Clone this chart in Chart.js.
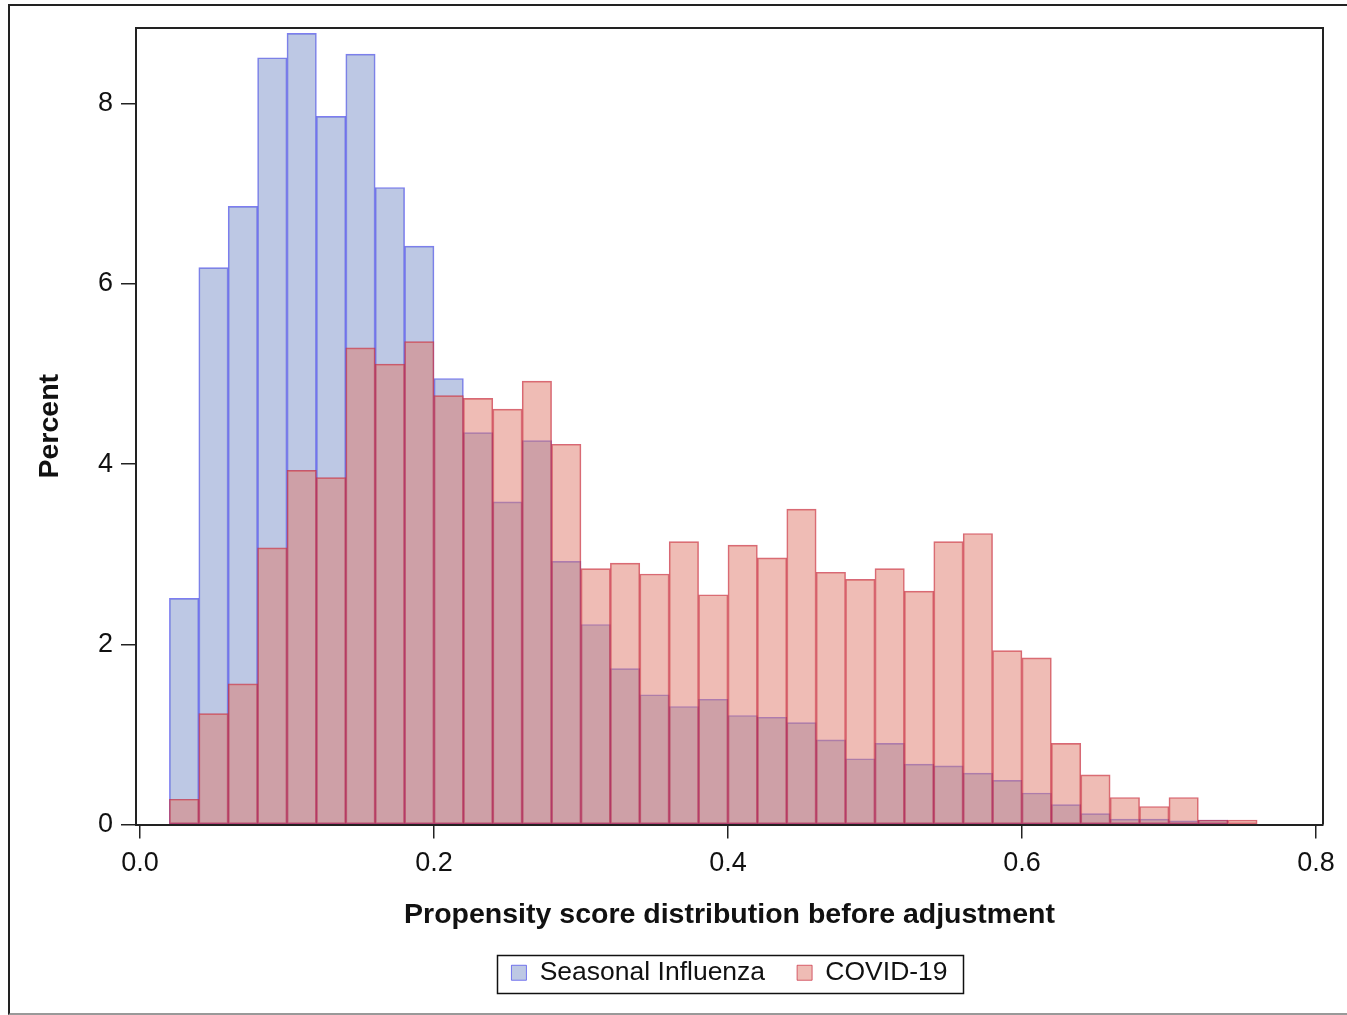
<!DOCTYPE html>
<html>
<head>
<meta charset="utf-8">
<script src="https://cdn.jsdelivr.net/npm/chart.js@4"></script>
<style>
  html, body { margin: 0; padding: 0; background: #fff; }
  #wrap { position: relative; width: 1347px; height: 1015px; overflow: hidden; }
  #frame { position: absolute; left: 8px; top: 4px; width: 1400px; height: 1007px;
           border-left: 2px solid #222; border-top: 2px solid #222; border-bottom: 2px solid #999; }
  #c { position: absolute; left: 0; top: 0; }
</style>
</head>
<body>
<div id="wrap">
  <div id="frame"></div>
  <canvas id="c" width="1347" height="1015"></canvas>
</div>
<script>
// Bin centres (bin width 0.02, first bin 0.02-0.04)
const binCenters = [0.03, 0.05, 0.07, 0.09, 0.11, 0.13, 0.15, 0.17, 0.19, 0.21,
                    0.23, 0.25, 0.27, 0.29, 0.31, 0.33, 0.35, 0.37, 0.39, 0.41,
                    0.43, 0.45, 0.47, 0.49, 0.51, 0.53, 0.55, 0.57, 0.59, 0.61,
                    0.63, 0.65, 0.67, 0.69, 0.71, 0.73, 0.75];
const seriesNames = ['Seasonal Influenza', 'COVID-19'];
const influenza = [2.51, 6.18, 6.86, 8.51, 8.78, 7.86, 8.55, 7.07, 6.42, 4.95,
                   4.35, 3.58, 4.26, 2.92, 2.22, 1.73, 1.44, 1.31, 1.39, 1.21,
                   1.19, 1.13, 0.94, 0.73, 0.90, 0.67, 0.65, 0.57, 0.49, 0.35,
                   0.22, 0.12, 0.06, 0.06, 0.04, 0.05, 0.00];
const covid = [0.28, 1.23, 1.56, 3.07, 3.93, 3.85, 5.29, 5.11, 5.36, 4.76,
               4.73, 4.61, 4.92, 4.22, 2.84, 2.90, 2.78, 3.14, 2.55, 3.10,
               2.96, 3.50, 2.80, 2.72, 2.84, 2.59, 3.14, 3.23, 1.93, 1.85,
               0.90, 0.55, 0.30, 0.20, 0.30, 0.05, 0.05];
const xTickValues = [0, 0.2, 0.4, 0.6, 0.8];
const xTickLabels = ['0.0', '0.2', '0.4', '0.6', '0.8'];
const yTickValues = [0, 2, 4, 6, 8];
const yTickLabels = ['0', '2', '4', '6', '8'];
const xTitle = 'Propensity score distribution before adjustment';
const yTitle = 'Percent';

const FONT = "'Liberation Sans', Arial, sans-serif";
const AXIS = '#222';

const framePlugin = {
  id: 'framePlugin',
  afterDraw(chart) {
    const ctx = chart.ctx, a = chart.chartArea;
    ctx.save();
    ctx.strokeStyle = AXIS;
    ctx.lineWidth = 2;
    ctx.beginPath();
    ctx.moveTo(a.left, a.top);
    ctx.lineTo(a.right, a.top);
    ctx.lineTo(a.right, a.bottom);
    ctx.stroke();
    // legend frame
    const hb = chart.legend && chart.legend.legendHitBoxes;
    if (hb && hb.length) {
      const l = hb[0].left - 14;
      const last = hb[hb.length - 1];
      const r = last.left + last.width + 16;
      const t = hb[0].top - 5;
      const b = hb[0].top + hb[0].height + 6;
      ctx.lineWidth = 1.5;
      ctx.strokeStyle = '#111';
      ctx.strokeRect(Math.round(l) + 0.5, Math.round(t) + 0.5, Math.round(r - l), Math.round(b - t));
    }
    ctx.restore();
  }
};

new Chart(document.getElementById('c'), {
  type: 'bar',
  data: {
    datasets: [
      {
        label: seriesNames[0],
        data: binCenters.map((x, i) => ({ x: x, y: influenza[i] })),
        backgroundColor: 'rgba(123,145,201,0.5)',
        borderColor: 'rgba(70,70,235,0.7)',
        borderWidth: 1,
        borderSkipped: false,
        grouped: false,
        barPercentage: 1,
        categoryPercentage: 1,
        order: 2
      },
      {
        label: seriesNames[1],
        data: binCenters.map((x, i) => ({ x: x, y: covid[i] })),
        backgroundColor: 'rgba(223,121,107,0.5)',
        borderColor: 'rgba(200,40,60,0.7)',
        borderWidth: 1,
        borderSkipped: false,
        grouped: false,
        barPercentage: 1,
        categoryPercentage: 1,
        order: 1
      }
    ]
  },
  options: {
    responsive: false,
    animation: false,
    devicePixelRatio: 1,
    layout: { padding: { left: 0, right: 24, top: 28, bottom: 19 } },
    plugins: {
      tooltip: { enabled: false },
      legend: {
        position: 'bottom',
        fullSize: false,
        labels: {
          font: { family: FONT, size: 26.5 },
          color: '#111',
          boxWidth: 15,
          boxHeight: 15,
          padding: 32,
          sort: (a, b) => a.datasetIndex - b.datasetIndex
        }
      }
    },
    scales: {
      x: {
        type: 'linear',
        offset: false,
        min: -0.00272,
        max: 0.8048,
        afterBuildTicks: (s) => { s.ticks = xTickValues.map(v => ({ value: v })); },
        afterFit: (s) => { s.height = 103; },
        ticks: {
          callback: (v, i) => xTickLabels[i],
          font: { family: FONT, size: 27 },
          color: '#111',
          padding: 9,
          maxRotation: 0,
          autoSkip: false
        },
        grid: { offset: false, drawOnChartArea: false, drawTicks: true, tickLength: 14, color: AXIS, lineWidth: 1.5 },
        border: { display: true, color: AXIS, width: 2 },
        title: {
          display: true,
          text: xTitle,
          font: { family: FONT, size: 28.5, weight: 'bold', lineHeight: 0.9 },
          color: '#111',
          padding: { top: 0, bottom: 0 }
        }
      },
      y: {
        min: 0,
        max: 8.84,
        afterBuildTicks: (s) => { s.ticks = yTickValues.map(v => ({ value: v })); },
        afterFit: (s) => { s.width = 136; },
        ticks: {
          callback: (v, i) => yTickLabels[i],
          font: { family: FONT, size: 27 },
          color: '#111',
          padding: 8
        },
        grid: { drawOnChartArea: false, drawTicks: true, tickLength: 15, color: AXIS, lineWidth: 1.5 },
        border: { display: true, color: AXIS, width: 2 },
        title: {
          display: true,
          text: yTitle,
          font: { family: FONT, size: 28.5, weight: 'bold', lineHeight: 1.2 },
          color: '#111',
          padding: { top: 33, bottom: 0 }
        }
      }
    }
  },
  plugins: [framePlugin]
});
</script>
</body>
</html>
